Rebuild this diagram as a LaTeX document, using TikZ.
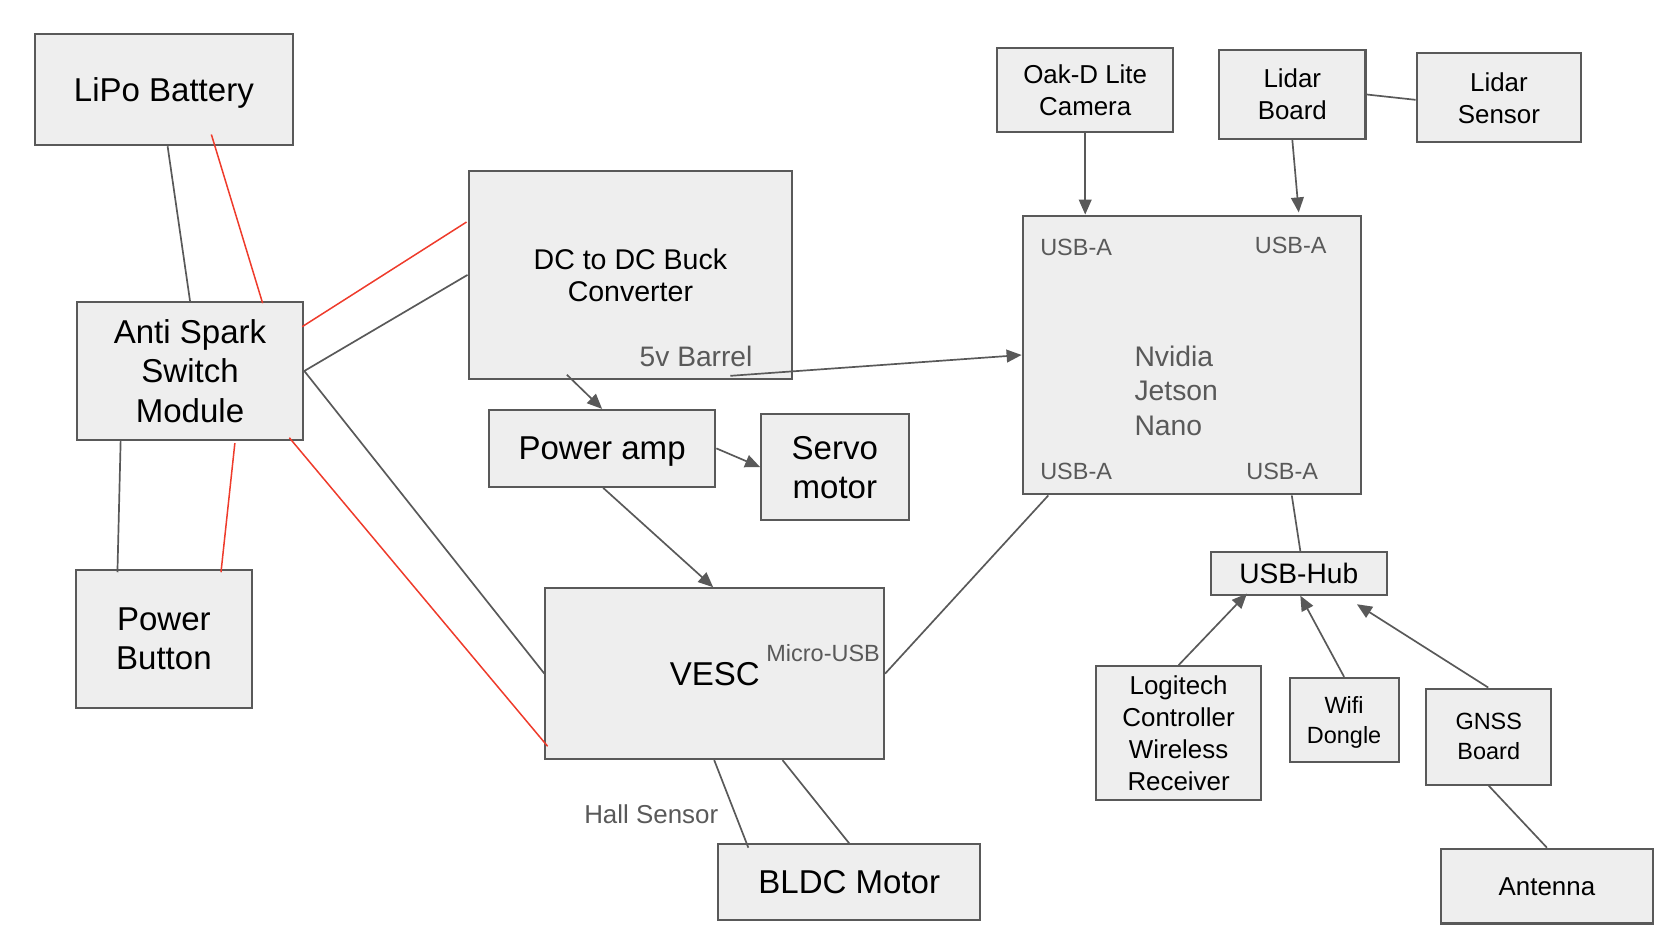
\documentclass[tikz,border=0pt]{standalone}
\usepackage{fontspec}
\setmainfont{Liberation Sans}
\usetikzlibrary{calc,arrows.meta}
\definecolor{edgegray}{HTML}{595959}
\definecolor{boxfill}{HTML}{EEEEEE}
\definecolor{wirered}{HTML}{EE3B2B}
\tikzset{
  block/.style={draw=edgegray, fill=boxfill, line width=0.55pt, inner sep=0pt, align=center, text depth=0pt},
  bigtext/.style={font=\fontsize{8.8}{10.4}\selectfont},
  medtext/.style={font=\fontsize{7.6}{8.5}\selectfont},
  smalltext/.style={font=\fontsize{6.9}{8.5}\selectfont},
  tinytext/.style={font=\fontsize{6.25}{7.95}\selectfont},
  port/.style={text=edgegray, inner sep=0pt},
  wire/.style={draw=edgegray, line width=0.45pt},
  hotwire/.style={draw=wirered, line width=0.4pt},
  link/.style={wire, -{Triangle[length=4pt,width=3.4pt]}}
}
\begin{document}
\begin{tikzpicture}[x=0.01cm,y=-0.01cm]
\useasboundingbox (0,0) rectangle (1568,878);
% power side
\node[block,bigtext,minimum width=2.41cm,minimum height=1.04cm] (lipo) at (153.5,84) {LiPo Battery};
\node[block,bigtext,minimum width=2.12cm,minimum height=1.29cm] (antispark) at (178,347.5) {Anti Spark\\Switch\\Module};
\node[block,bigtext,minimum width=1.65cm,minimum height=1.29cm] (powerbtn) at (153.5,598.5) {Power\\Button};
\node[block,medtext,minimum width=3.03cm,minimum height=1.95cm] (buck) at (590.5,257.5) {DC to DC Buck\\Converter};
\node[block,bigtext,minimum width=2.12cm,minimum height=0.72cm] (poweramp) at (564,420) {Power amp};
\node[block,bigtext,minimum width=1.38cm,minimum height=0.99cm] (servo) at (782,437.5) {Servo\\motor};
\node[block,bigtext,minimum width=3.17cm,minimum height=1.60cm] (vesc) at (669.5,631) {VESC};
\node[block,bigtext,minimum width=2.45cm,minimum height=0.71cm] (bldc) at (795.5,826.5) {BLDC Motor};
% compute side
\node[block,minimum width=3.17cm,minimum height=2.61cm] (jetson) at (1116.5,332.5) {};
\node[block,smalltext,minimum width=1.65cm,minimum height=0.79cm] (oakd) at (1016.5,84.5) {Oak-D Lite\\Camera};
\node[block,smalltext,minimum width=1.37cm,minimum height=0.83cm] (lidarboard) at (1210.5,88.5) {Lidar\\Board};
\node[block,smalltext,minimum width=1.54cm,minimum height=0.83cm] (lidarsensor) at (1404,91.5) {Lidar\\Sensor};
\node[block,font=\fontsize{7.5}{8.5}\selectfont,minimum width=1.65cm,minimum height=0.40cm] (usbhub) at (1216.5,537) {USB-Hub};
\node[block,smalltext,minimum width=1.54cm,minimum height=1.25cm] (logitech) at (1104,686.5) {Logitech\\Controller\\Wireless\\Receiver};
\node[block,tinytext,minimum width=1.02cm,minimum height=0.79cm] (wifi) at (1259,674.5) {Wifi\\Dongle};
\node[block,tinytext,minimum width=1.17cm,minimum height=0.90cm] (gnss) at (1394.5,690) {GNSS\\Board};
\node[block,smalltext,minimum width=1.98cm,minimum height=0.70cm] (antenna) at (1449,830) {Antenna};
% port labels
\node[port,font=\fontsize{7.54}{9.25}\selectfont,align=left,anchor=west] (jetsonname) at (1062,366) {Nvidia\\Jetson\\Nano};
\node[port,font=\fontsize{7.5}{8.5}\selectfont] (barrel) at (652,334) {5v Barrel};
\node[port,tinytext] (microusb) at (771,612) {Micro-USB};
\node[port,smalltext] (hall) at (610,763) {Hall Sensor};
\node[port,tinytext] (usbtl) at (1008,232) {USB-A};
\node[port,tinytext] (usbtr) at (1209,230) {USB-A};
\node[port,tinytext] (usbbl) at (1008,442) {USB-A};
\node[port,tinytext] (usbbr) at (1201,442) {USB-A};
% battery wiring
\draw[wire] ($(lipo.south)+(3.5,0)$) -- (antispark.north);
\draw[hotwire] ($(lipo.south)+(44.5,-11)$) -- ($(antispark.north)+(68,2)$);
\draw[wire] ($(antispark.south)+(-65,0)$) -- ($(powerbtn.north)+(-43.5,3)$);
\draw[hotwire] ($(antispark.south)+(42,2)$) -- ($(powerbtn.north)+(53.5,3)$);
\draw[hotwire] ($(antispark.east)+(-2,-41.5)$) -- ($(buck.west)+(-1,-49.5)$);
\draw[wire] (antispark.east) -- (buck.west);
\draw[wire] (antispark.east) -- (vesc.west);
\draw[hotwire] ($(antispark.south east)+(-14,-3)$) -- ($(vesc.south west)+(3,-13)$);
% power and signal
\draw[link] ($(buck.south)+(-59.5,-5)$) -- (poweramp.north);
\draw[link] ($(buck.south east)+(-59,-4)$) -- (jetson.west);
\draw[link] (poweramp.east) -- (servo.west);
\draw[link] ($(poweramp.south)+(1,0)$) -- ($(vesc.north)+(-1.5,0)$);
\draw[wire] (vesc.east) -- ($(jetson.south west)+(25,0)$);
\draw[wire] ($(vesc.south)+(-0.5,0)$) -- ($(bldc.north west)+(29,4)$);
\draw[wire] ($(vesc.south)+(63.5,0)$) -- (bldc.north);
% usb
\draw[link] (oakd.south) -- (oakd.south |- jetson.north);
\draw[link] (lidarboard.south) -- ($(jetson.north)+(100,-2)$);
\draw[wire] (lidarboard.east) -- ($(lidarsensor.west)+(0,2)$);
\draw[wire] ($(jetson.south)+(93.5,0)$) -- ($(usbhub.north)+(1.5,0)$);
\draw[link] (logitech.north) -- ($(usbhub.south west)+(35,-2)$);
\draw[link] (wifi.north) -- ($(usbhub.south)+(1.5,0)$);
\draw[link] ($(gnss.north)+(-0.5,0)$) -- ($(usbhub.south east)+(-29,8)$);
\draw[wire] (gnss.south) -- (antenna.north);
\end{tikzpicture}
\end{document}
